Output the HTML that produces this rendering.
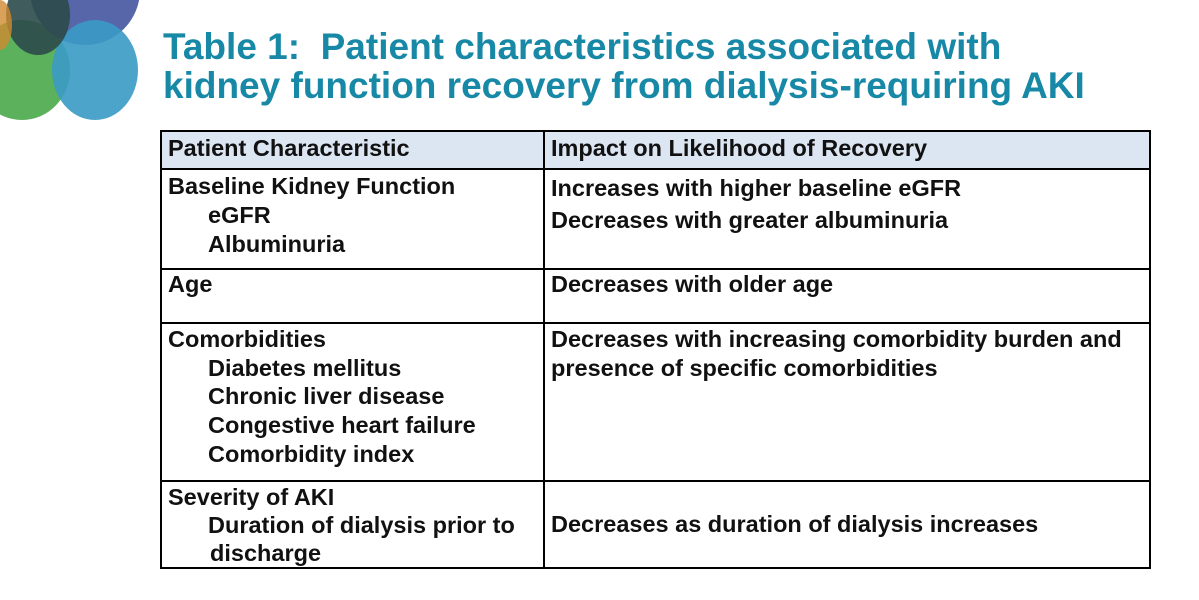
<!DOCTYPE html>
<html><head><meta charset="utf-8"><style>
body{margin:0;width:1199px;height:600px;background:#fff;position:relative;overflow:hidden;font-family:"Liberation Sans",sans-serif}
.t{position:absolute;left:163px;color:#1789a6;font-weight:bold;font-size:37px;white-space:nowrap}
.c{position:absolute;font-weight:bold;font-size:23.5px;color:#111;white-space:nowrap}
.h{position:absolute;background:#000}
</style></head><body>
<svg width="170" height="125" style="position:absolute;left:0;top:0">
<ellipse cx="22" cy="70" rx="48" ry="50" fill="#4aaa4a" opacity="0.9"/>
<ellipse cx="85" cy="-10" rx="55" ry="55" fill="#3a4a9a" opacity="0.85"/>
<ellipse cx="95" cy="70" rx="43" ry="50" fill="#3a9ac4" opacity="0.9"/>
<ellipse cx="38" cy="15" rx="32" ry="40" fill="#2c4a4a" opacity="0.9"/>
<ellipse cx="0" cy="25" rx="12" ry="25" fill="#d08a30" opacity="0.8"/>
</svg>
<div class="t" style="top:26px">Table 1:&nbsp; Patient characteristics associated with</div>
<div class="t" style="top:65px">kidney function recovery from dialysis-requiring AKI</div>
<div style="position:absolute;left:161px;top:131px;width:989px;height:38px;background:#dce6f2"></div>
<div class="h" style="left:160px;top:130px;width:991px;height:2px"></div>
<div class="h" style="left:160px;top:168px;width:991px;height:2px"></div>
<div class="h" style="left:160px;top:268px;width:991px;height:2px"></div>
<div class="h" style="left:160px;top:322px;width:991px;height:2px"></div>
<div class="h" style="left:160px;top:480px;width:991px;height:2px"></div>
<div class="h" style="left:160px;top:567px;width:991px;height:2px"></div>
<div class="h" style="left:160px;top:130px;width:2px;height:439px"></div>
<div class="h" style="left:543px;top:130px;width:2px;height:439px"></div>
<div class="h" style="left:1149px;top:130px;width:2px;height:439px"></div>
<div class="c" style="left:168px;top:135px">Patient Characteristic</div>
<div class="c" style="left:551px;top:135px">Impact on Likelihood of Recovery</div>
<div class="c" style="left:168px;top:172px;line-height:29px">Baseline Kidney Function<br><span style="padding-left:40px">eGFR</span><br><span style="padding-left:40px">Albuminuria</span></div>
<div class="c" style="left:551px;top:172px;line-height:32px">Increases with higher baseline eGFR<br>Decreases with greater albuminuria</div>
<div class="c" style="left:168px;top:271px">Age</div>
<div class="c" style="left:551px;top:271px">Decreases with older age</div>
<div class="c" style="left:168px;top:325px;line-height:28.7px">Comorbidities<br><span style="padding-left:40px">Diabetes mellitus</span><br><span style="padding-left:40px">Chronic liver disease</span><br><span style="padding-left:40px">Congestive heart failure</span><br><span style="padding-left:40px">Comorbidity index</span></div>
<div class="c" style="left:551px;top:325px;line-height:29px">Decreases with increasing comorbidity burden and<br>presence of specific comorbidities</div>
<div class="c" style="left:168px;top:483px;line-height:28px">Severity of AKI<br><span style="padding-left:40px">Duration of dialysis prior to</span><br><span style="padding-left:42px">discharge</span></div>
<div class="c" style="left:551px;top:511px">Decreases as duration of dialysis increases</div>
</body></html>
